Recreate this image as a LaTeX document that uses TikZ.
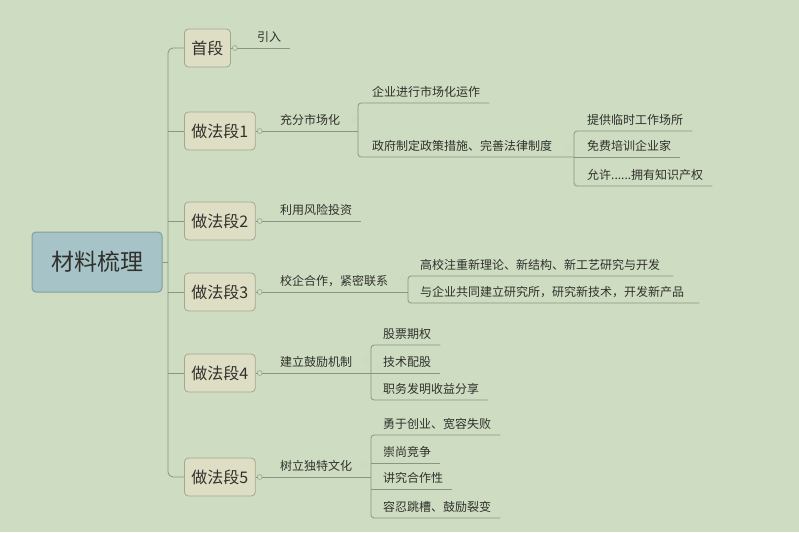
\documentclass[tikz,border=0pt]{standalone}
\usepackage{fontspec}
\newfontfamily\zhfont{Noto Sans CJK SC}
\definecolor{bgcol}{RGB}{206,221,193}
\definecolor{linecol}{RGB}{138,150,132}
\definecolor{rootfill}{RGB}{166,196,199}
\definecolor{rootline}{RGB}{128,158,163}
\definecolor{secfill}{RGB}{222,222,196}
\definecolor{secline}{RGB}{160,168,148}
\definecolor{txtcol}{RGB}{48,48,44}

\tikzset{
  link/.style={draw=linecol, line width=0.8pt},
  rootbox/.style={draw=rootline, line width=1pt, fill=rootfill, rounded corners=4pt,
    minimum width=130pt, minimum height=60pt, text=txtcol,
    font=\zhfont\fontsize{23}{26}\selectfont},
  secbox/.style={draw=secline, line width=0.8pt, fill=secfill, rounded corners=4pt,
    minimum height=38pt, anchor=west, inner xsep=7pt, text=txtcol,
    font=\zhfont\fontsize{16}{18}\selectfont},
  topic/.style={anchor=south west, inner xsep=0pt, inner ysep=5.5pt, text=txtcol,
    font=\zhfont\fontsize{12}{14}\selectfont},
  knob/.style={circle, draw=linecol, fill=bgcol, inner sep=0pt, minimum size=5pt},
  faint/.style={circle, draw=linecol!45, inner sep=0pt, minimum size=5pt}
}

\begin{document}
\begin{tikzpicture}[x=1pt,y=-1pt]
\fill[bgcol] (0,0) rectangle (799,532);
\useasboundingbox (0,0) rectangle (799,532);

% root and sections
\node[rootbox] (root) at (97,262) {材料梳理};
\coordinate (trunk) at (168,262);
\foreach \n/\t/\y in {0/首段/48,1/做法段1/131,2/做法段2/221,3/做法段3/292,4/做法段4/373,5/做法段5/477}
  \node[secbox] (s\n) at (184,\y) {\t};

\draw[link] (root.east) -- (trunk);
\draw[link, rounded corners=5pt] (s0.west) -| (trunk) |- (s5.west);
\foreach \n in {1,2,3,4}
  \draw[link] (s\n.west -| trunk) -- (s\n.west);

% second level
\node[topic] (t0) at (257,48) {引入};
\node[topic] (t1) at (280,131) {充分市场化};
\node[topic] (t2) at (280,221) {利用风险投资};
\node[topic] (t3) at (280,292) {校企合作，紧密联系};
\node[topic] (t4) at (280,373) {建立鼓励机制};
\node[topic] (t5) at (280,477) {树立独特文化};

\coordinate (k1) at (358,131);
\coordinate (k2) at (574,157);
\coordinate (k3) at (408,292);
\coordinate (k4) at (371,373);
\coordinate (k5) at (371,477);

\draw[link] (s0.east) -- ([xshift=9pt]t0.south east);
\draw[link] (s1.east) -- (k1);
\draw[link] (s2.east) -- ([xshift=9pt]t2.south east);
\draw[link] (s3.east) -- (k3);
\draw[link] (s4.east) -- (k4);
\draw[link] (s5.east) -- (k5);

% third level
\node[topic] (a1) at (372,103) {企业进行市场化运作};
\node[topic] (a2) at (372,157) {政府制定政策措施、完善法律制度};
\node[topic] (b1) at (587,131) {提供临时工作场所};
\node[topic] (b2) at (587,157) {免费培训企业家};
\node[topic] (b3) at (587,186) {允许......拥有知识产权};
\node[topic] (c1) at (420,276) {高校注重新理论、新结构、新工艺研究与开发};
\node[topic] (c2) at (420,303) {与企业共同建立研究所，研究新技术，开发新产品};
\node[topic] (d1) at (383,345) {股票期权};
\node[topic] (d2) at (383,373) {技术配股};
\node[topic] (d3) at (383,400) {职务发明收益分享};
\node[topic] (e1) at (383,435) {勇于创业、宽容失败};
\node[topic] (e2) at (383,463) {崇尚竞争};
\node[topic] (e3) at (383,489) {讲究合作性};
\node[topic] (e4) at (383,518) {容忍跳槽、鼓励裂变};

\draw[link, rounded corners=3pt] ([xshift=9pt]a1.south east) -- (a1.south west -| k1) -- (a2.south west -| k1) -- (k2);
\draw[link, rounded corners=3pt] ([xshift=9pt]b1.south east) -- (b1.south west -| k2) -- (b3.south west -| k2) -- ([xshift=9pt]b3.south east);
\draw[link] (k2) -- ([xshift=9pt]b2.south east);
\draw[link, rounded corners=3pt] ([xshift=13pt]c1.south east) -- (c1.south west -| k3) -- (c2.south west -| k3) -- ([xshift=15pt]c2.south east);
\draw[link, rounded corners=3pt] ([xshift=9pt]d1.south east) -- (d1.south west -| k4) -- (d3.south west -| k4) -- ([xshift=9pt]d3.south east);
\draw[link] (k4) -- ([xshift=9pt]d2.south east);
\draw[link, rounded corners=3pt] ([xshift=9pt]e1.south east) -- (e1.south west -| k5) -- (e4.south west -| k5) -- ([xshift=9pt]e4.south east);
\draw[link] (e2.south west -| k5) -- ([xshift=9pt]e2.south east);
\draw[link] (e3.south west -| k5) -- ([xshift=9pt]e3.south east);

% collapse markers
\foreach \n in {0,...,5}
  \node[knob] (m\n) at ([xshift=4pt]s\n.east) {};
\foreach \n/\x/\y in {1/354/119,3/403/278,4/366/360,5/365/464,6/568/146}
  \node[faint] (f\n) at (\x,\y) {};
\end{tikzpicture}
\end{document}
